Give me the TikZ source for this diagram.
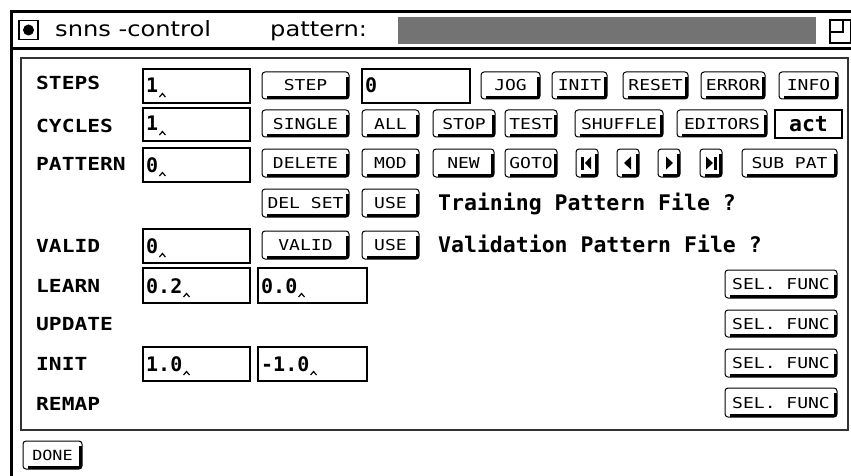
\documentclass[tikz,border=0pt]{standalone}
\usepackage{fontspec}
\setmainfont{DejaVu Sans}
\newfontfamily\lblfont[FakeStretch=1.18]{DejaVu Sans Mono}
\newfontfamily\btnfont[FakeStretch=1.2]{DejaVu Sans Mono}
\newfontfamily\titlefont[FakeStretch=1.15]{DejaVu Sans}
\newfontfamily\monofont{DejaVu Sans Mono}
\tikzset{
  lbl/.style={anchor=base west, inner sep=0, font=\lblfont\bfseries\fontsize{18}{20}\selectfont},
  titletxt/.style={anchor=base west, inner sep=0, font=\titlefont\fontsize{21}{24}\selectfont},
  btnbox/.style={draw, line width=1pt, rounded corners=3pt, inner sep=0, outer sep=0, fill=white,
    text height=11pt, text depth=0pt, font=\btnfont\fontsize{15}{17}\selectfont},
  btnshadow/.style={line width=2.5pt, line join=round},
  fieldbox/.style={draw, line width=1.5pt, inner sep=0, outer sep=0},
  fieldtxt/.style={anchor=base west, inner sep=0, font=\monofont\bfseries\fontsize{20}{22}\selectfont},
  bigtxt/.style={anchor=base west, inner sep=0, font=\monofont\bfseries\fontsize{21.5}{24}\selectfont},
  caret/.style={line width=1.2pt, line join=miter},
  icon/.style={fill=black}
}
\newcommand\btn[6]{%
  \node[btnbox, minimum width={#4-#2}, minimum height={#5-#3}] (#1) at ({(#2+#4)/2},{(#3+#5)/2}) {#6};
  \draw[btnshadow] ([shift={(-1.5,5)}]#1.north east) -- ([shift={(-1.5,-1.5)}]#1.south east) -- ([shift={(5,-1.5)}]#1.south west);
}
\newcommand\fieldnc[6]{%
  \node[fieldbox, minimum width={#4-#2}, minimum height={#5-#3}] (#1) at ({(#2+#4)/2},{(#3+#5)/2}) {};
  \node[fieldtxt] (#1t) at ([shift={(3,-10)}]#1.south west) {#6};
}
\newcommand\field[6]{%
  \fieldnc{#1}{#2}{#3}{#4}{#5}{#6}
  \draw[caret] ([shift={(1,4)}]#1t.base east) -- ([shift={(4,0.5)}]#1t.base east) -- ([shift={(7,4)}]#1t.base east);
}
\begin{document}
\begin{tikzpicture}[x=1pt, y=-1pt]
\useasboundingbox (0,0) rectangle (851,476);
% window frame
\draw[line width=3pt] (11,476) -- (11,11.5) -- (851,11.5);
\draw[line width=3pt] (11,49) -- (851,49);
% title bar
\node[draw, line width=1.5pt, minimum size=19, inner sep=0] (chk) at (28.5,30) {};
\fill (chk.center) circle (5.5);
\node[titletxt] (ttl) at (55,37) {snns -control};
\node[titletxt] (pat) at (270,37) {pattern:};
\node[fill=black!55, minimum width=418, minimum height=27, inner sep=0] (bar) at (607,30.5) {};
\draw[line width=1.2pt] (830,20) rectangle (851,43);
\draw[line width=1.2pt] (830,32) -- (843,32) -- (843,20);
% panel
\draw[line width=1.5pt, draw=black!80] (21,58) rectangle (848,430);
% labels
\node[lbl] (lsteps) at (36,90) {STEPS};
\node[lbl] (lcycles) at (36,132) {CYCLES};
\node[lbl] (lpattern) at (36,170) {PATTERN};
\node[lbl] (lvalid) at (36,252) {VALID};
\node[lbl] (llearn) at (36,292) {LEARN};
\node[lbl] (lupdate) at (36,330) {UPDATE};
\node[lbl] (linit) at (36,370) {INIT};
\node[lbl] (lremap) at (36,410) {REMAP};
% fields
\field{f1}{143}{69}{250}{103}{1}
\field{f2}{143}{108}{250}{141}{1}
\field{f3}{143}{148}{250}{182}{0}
\fieldnc{f4}{362}{69}{470}{103}{0}
\field{fv}{143}{229}{250}{263}{0}
\field{fla}{143}{268}{250}{303}{0.2}
\field{flb}{258}{268}{367}{303}{0.0}
\field{fia}{143}{347}{250}{381}{1.0}
\field{fib}{258}{347}{367}{381}{-1.0}
% row 1
\btn{step}{262}{72}{349}{99}{STEP}
\btn{jog}{481}{72}{540}{99}{JOG}
\btn{init}{552}{72}{607}{99}{INIT}
\btn{reset}{623}{72}{688}{99}{RESET}
\btn{error}{701}{72}{765}{99}{ERROR}
\btn{info}{779}{72}{838}{99}{INFO}
% row 2
\btn{single}{262}{110}{349}{137}{SINGLE}
\btn{all}{362}{110}{419}{137}{ALL}
\btn{stop}{433}{110}{495}{137}{STOP}
\btn{test}{505}{110}{557}{137}{TEST}
\btn{shuffle}{575}{110}{663}{137}{SHUFFLE}
\btn{editors}{677}{110}{767}{137}{EDITORS}
\node[fieldbox, minimum width=67, minimum height=28, font=\monofont\bfseries\fontsize{21.5}{24}\selectfont] (act) at (808.5,124) {act};
% row 3
\btn{delete}{262}{149}{349}{177}{DELETE}
\btn{mod}{362}{149}{419}{177}{MOD}
\btn{new}{433}{149}{494}{177}{NEW}
\btn{goto}{505}{149}{557}{177}{GOTO}
\btn{navA}{576}{149}{598}{177}{}
\btn{navB}{617}{149}{639}{177}{}
\btn{navC}{658}{149}{680}{177}{}
\btn{navD}{700}{149}{722}{177}{}
\btn{subpat}{742}{149}{837}{177}{SUB PAT}
\fill[icon] ([shift={(-6,-6.5)}]navA.center) rectangle ([shift={(-3,6.5)}]navA.center);
\fill[icon] ([shift={(4,-6.5)}]navA.center) -- ([shift={(4,6.5)}]navA.center) -- ([shift={(-2,0)}]navA.center) -- cycle;
\fill[icon] ([shift={(3,-6.5)}]navB.center) -- ([shift={(3,6.5)}]navB.center) -- ([shift={(-4,0)}]navB.center) -- cycle;
\fill[icon] ([shift={(-3,-6.5)}]navC.center) -- ([shift={(-3,6.5)}]navC.center) -- ([shift={(4,0)}]navC.center) -- cycle;
\fill[icon] ([shift={(-5,-6.5)}]navD.center) -- ([shift={(-5,6.5)}]navD.center) -- ([shift={(2,0)}]navD.center) -- cycle;
\fill[icon] ([shift={(3,-6.5)}]navD.center) rectangle ([shift={(6,6.5)}]navD.center);
% row 4
\btn{delset}{262}{189}{349}{217}{DEL SET}
\btn{useA}{362}{189}{419}{217}{USE}
\node[bigtxt] (train) at (438,210) {Training Pattern File ?};
% row 5
\btn{valid}{262}{231}{349}{259}{VALID}
\btn{useB}{362}{231}{419}{259}{USE}
\node[bigtxt] (validtxt) at (438,252) {Validation Pattern File ?};
% sel func
\btn{sfA}{725}{270}{837}{298}{SEL. FUNC}
\btn{sfB}{725}{310}{837}{337}{SEL. FUNC}
\btn{sfC}{725}{349}{837}{377}{SEL. FUNC}
\btn{sfD}{725}{388}{837}{417}{SEL. FUNC}
% done
\btn{done}{23}{441}{82}{469}{\fontsize{14}{16}\selectfont DONE}
\end{tikzpicture}
\end{document}
